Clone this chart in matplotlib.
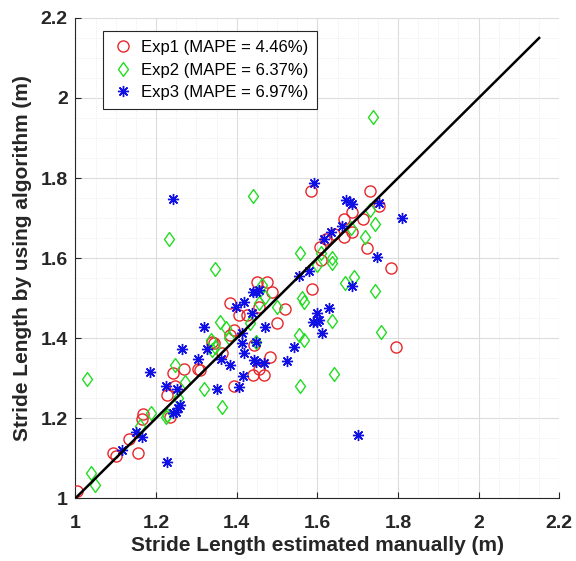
import numpy as np
import matplotlib.pyplot as plt
from matplotlib.ticker import MultipleLocator
from matplotlib.path import Path

plt.rcParams['font.family'] = ['Liberation Sans', 'DejaVu Sans']

# Exp1 - red circles
exp1_x = [1.003, 1.094, 1.100, 1.134, 1.156, 1.165, 1.167, 1.235, 1.228, 1.248,
          1.243, 1.268, 1.305, 1.310, 1.339, 1.343, 1.364, 1.384, 1.392, 1.384,
          1.405, 1.426, 1.455, 1.451, 1.476, 1.442, 1.393, 1.440, 1.467, 1.455,
          1.482, 1.488, 1.499, 1.519, 1.587, 1.608, 1.606, 1.621, 1.640, 1.665,
          1.687, 1.665, 1.687, 1.714, 1.724, 1.753, 1.584, 1.731, 1.782, 1.795]
exp1_y = [1.018, 1.112, 1.105, 1.149, 1.113, 1.199, 1.210, 1.202, 1.258, 1.280,
          1.313, 1.324, 1.324, 1.320, 1.390, 1.387, 1.362, 1.408, 1.420, 1.487,
          1.458, 1.458, 1.478, 1.541, 1.541, 1.383, 1.280, 1.308, 1.308, 1.324,
          1.352, 1.516, 1.437, 1.472, 1.522, 1.595, 1.627, 1.647, 1.660, 1.652,
          1.666, 1.697, 1.714, 1.697, 1.624, 1.730, 1.768, 1.768, 1.574, 1.377]

# Exp2 - green diamonds
exp2_x = [1.028, 1.038, 1.048, 1.160, 1.187, 1.225, 1.228, 1.231, 1.247, 1.255,
          1.272, 1.320, 1.335, 1.339, 1.347, 1.347, 1.359, 1.364, 1.374, 1.380,
          1.434, 1.440, 1.447, 1.455, 1.463, 1.471, 1.500, 1.554, 1.556, 1.556,
          1.563, 1.567, 1.567, 1.600, 1.608, 1.637, 1.637, 1.637, 1.640, 1.668,
          1.683, 1.691, 1.718, 1.731, 1.743, 1.743, 1.757, 1.737]
exp2_y = [1.299, 1.063, 1.033, 1.180, 1.213, 1.203, 1.208, 1.648, 1.333, 1.250,
          1.291, 1.274, 1.395, 1.370, 1.378, 1.572, 1.441, 1.228, 1.424, 1.400,
          1.437, 1.755, 1.390, 1.487, 1.533, 1.503, 1.478, 1.408, 1.613, 1.281,
          1.501, 1.490, 1.395, 1.583, 1.612, 1.587, 1.599, 1.443, 1.310, 1.537,
          1.675, 1.553, 1.652, 1.720, 1.685, 1.518, 1.416, 1.953]

# Exp3 - blue asterisks
exp3_x = [1.115, 1.150, 1.165, 1.185, 1.228, 1.225, 1.243, 1.250, 1.255, 1.260,
          1.252, 1.243, 1.264, 1.305, 1.320, 1.326, 1.350, 1.360, 1.384, 1.397,
          1.405, 1.413, 1.413, 1.416, 1.417, 1.419, 1.438, 1.440, 1.442, 1.447,
          1.447, 1.447, 1.455, 1.467, 1.471, 1.525, 1.542, 1.554, 1.579, 1.590,
          1.600, 1.605, 1.600, 1.612, 1.616, 1.629, 1.633, 1.662, 1.670, 1.680,
          1.685, 1.687, 1.700, 1.749, 1.753, 1.592, 1.810]
exp3_y = [1.120, 1.166, 1.152, 1.316, 1.091, 1.280, 1.213, 1.215, 1.225, 1.233,
          1.274, 1.748, 1.374, 1.349, 1.428, 1.374, 1.274, 1.349, 1.333, 1.478,
          1.277, 1.387, 1.412, 1.305, 1.362, 1.491, 1.462, 1.515, 1.345, 1.516,
          1.390, 1.340, 1.520, 1.337, 1.428, 1.343, 1.377, 1.555, 1.568, 1.440,
          1.440, 1.445, 1.463, 1.412, 1.647, 1.474, 1.666, 1.680, 1.745, 1.740,
          1.735, 1.530, 1.158, 1.603, 1.737, 1.787, 1.700]

mape = [4.46, 6.37, 6.97]
ref_line = [1.0, 2.15]
tick_vals = [1, 1.2, 1.4, 1.6, 1.8, 2, 2.2]
tick_labels = ['1', '1.2', '1.4', '1.6', '1.8', '2', '2.2']

# matlab style diamond, a bit taller than wide
diamond = Path([(0, 1), (0.72, 0), (0, -1), (-0.72, 0), (0, 1)],
               [Path.MOVETO, Path.LINETO, Path.LINETO, Path.LINETO, Path.CLOSEPOLY])

fig = plt.figure(figsize=(5.76, 5.61), dpi=100)
ax = fig.add_axes([0.131, 0.112, 0.840, 0.856])

ax.plot(exp1_x, exp1_y, 'o', mfc='none', mec='#e8262a', ms=8, mew=1.0,
        label='Exp1 (MAPE = %.2f%%)' % mape[0], zorder=3)
ax.plot(exp2_x, exp2_y, ls='none', marker=diamond, mfc='none', mec='#22dd22',
        ms=10, mew=1.0, label='Exp2 (MAPE = %.2f%%)' % mape[1], zorder=3)
ax.plot(exp3_x, exp3_y, ls='none', marker=(8, 2, 0), mec='#1010e6', ms=8, mew=1.0,
        label='Exp3 (MAPE = %.2f%%)' % mape[2], zorder=3)
ax.plot(ref_line, ref_line, color='black', lw=1.8, zorder=4)

ax.set_xlim(1, 2.2)
ax.set_ylim(1, 2.2)
ax.xaxis.set_minor_locator(MultipleLocator(0.05))
ax.yaxis.set_minor_locator(MultipleLocator(0.05))
ax.set_xticks(tick_vals)
ax.set_xticklabels(tick_labels)
ax.set_yticks(tick_vals)
ax.set_yticklabels(tick_labels)

ax.grid(which='major', color='#dcdcdc', lw=0.8)
ax.grid(which='minor', color='#e6e6e6', lw=0.6, ls=':')
ax.set_axisbelow(True)
ax.tick_params(which='both', direction='in', top=False, right=False)
ax.tick_params(which='minor', length=0)
ax.tick_params(which='major', length=4, labelsize=14, colors='#262626')
ax.tick_params(axis='x', pad=12)
ax.tick_params(axis='y', pad=5.5)
for lab in ax.get_xticklabels() + ax.get_yticklabels():
    lab.set_fontweight('bold')
for s in ['top', 'right']:
    ax.spines[s].set_visible(False)
for s in ['left', 'bottom']:
    ax.spines[s].set_color('#262626')

ax.set_xlabel('Stride Length estimated manually (m)', fontsize=15,
              fontweight='bold', color='#262626', labelpad=3)
ax.set_ylabel('Stride Length by using algorithm (m)', fontsize=15,
              fontweight='bold', color='#262626', labelpad=6)

leg = ax.legend(loc='upper left', bbox_to_anchor=(0.04, 0.99), fontsize=12,
                fancybox=False, framealpha=1, edgecolor='#262626',
                handletextpad=0.4, handlelength=1.3, borderpad=0.55,
                labelspacing=0.45)
leg.get_frame().set_linewidth(0.8)

fig.savefig('out.png', dpi=100)
